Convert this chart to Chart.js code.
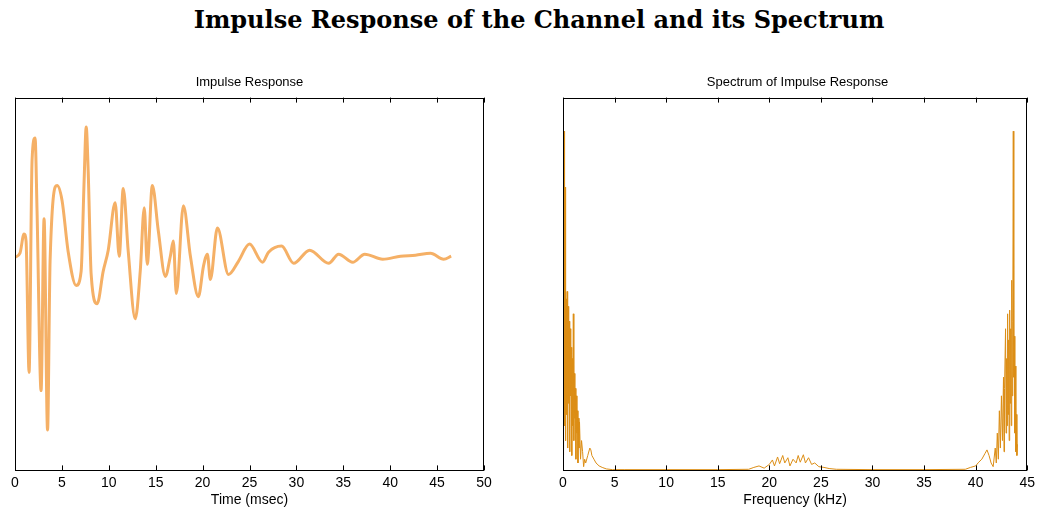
<!DOCTYPE html>
<html>
<head>
<meta charset="utf-8">
<script src="https://cdn.jsdelivr.net/npm/chart.js@4.4.1/dist/chart.umd.min.js"></script>
<style>
  body { margin: 0; background: #fff; width: 1039px; height: 507px; position: relative; overflow: hidden; }
  #title { position: absolute; left: 0; top: 5px; width: 1078px; text-align: center;
           font: bold 24px "DejaVu Serif", serif; color: #000; }
  .box { position: absolute; top: 60px; height: 452px; }
</style>
</head>
<body>
<div id="title">Impulse Response of the Channel and its Spectrum</div>
<div class="box" style="left:0; width:520px;"><canvas id="impulse"></canvas></div>
<div class="box" style="left:520px; width:519px;"><canvas id="spectrum"></canvas></div>
<script>
// impulse response (time in msec, arbitrary amplitude)
let timeMs = [0, 0.53, 0.96, 1.18, 1.5, 1.82, 2.14, 2.35, 2.78, 3.1, 3.47, 3.74, 4.49, 5.02, 5.66,
  6.52, 7.05, 7.37, 7.59, 7.8, 8.12, 8.76, 9.4, 9.94, 10.68, 11.11, 11.54, 12.07, 12.82, 13.35,
  13.78, 14.1, 14.64, 15.28, 16.03, 16.56, 16.88, 17.2, 17.95, 18.7, 19.55, 20.09, 20.51, 20.83,
  21.58, 22.76, 23.82, 25.0, 26.39, 27.03, 28.42, 29.7, 31.41, 33.44, 34.5, 36.0, 37.29, 39.2,
  41.1, 42.7, 44.3, 45.7, 46.5]
let impulse = [0, 0.04, 0.23, 0.16, -1.14, 0.96, 1.18, 0.46, -1.32, 0.38, -1.71, -0.04, 0.71, 0.56, 0.06,
  -0.28, -0.14, 0.76, 1.29, 0.86, -0.17, -0.46, -0.14, 0.07, 0.54, 0.01, 0.68, 0.06, -0.61, -0.14,
  0.49, -0.07, 0.71, 0.26, -0.19, 0.01, 0.16, -0.36, 0.51, 0.01, -0.39, -0.09, 0.03, -0.22,
  0.29, -0.17, -0.04, 0.13, -0.05, 0.05, 0.11, -0.06, 0.07, -0.06, 0.03, -0.05, 0.03, -0.02,
  0.01, 0.02, 0.04, -0.02, 0.01]

// magnitude spectrum (kHz, relative)
let freqKhz = [0, 0.05, 0.1, 0.15, 0.2, 0.25, 0.3, 0.35, 0.4, 0.45, 0.5, 0.55, 0.6, 0.65, 0.7, 0.75,
  0.8, 0.85, 0.9, 0.95, 1.0, 1.05, 1.1, 1.15, 1.2, 1.25, 1.3, 1.35, 1.4, 1.45, 1.5, 1.55, 1.6, 1.7,
  1.8, 1.9, 2.0, 2.1, 2.2, 2.4, 2.6, 2.7, 2.8, 3.0, 3.2, 3.5, 3.8, 4.2, 4.8,
  6, 10, 15, 18, 18.5, 19, 19.5, 20, 20.3, 20.5, 20.8, 21.0, 21.3, 21.5, 21.8, 22.0, 22.3, 22.6,
  22.8, 23.0, 23.3, 23.5, 23.8, 24.1, 24.4, 24.8, 25.3, 25.8, 26.5, 30, 35, 39, 39.5, 40.0, 40.3,
  40.6, 40.9, 41.1, 41.3, 41.5, 41.7, 41.9, 42.0, 42.1, 42.2, 42.3, 42.4, 42.5, 42.6, 42.7, 42.75,
  42.8, 42.9, 42.95, 43.0, 43.05, 43.1, 43.15, 43.2, 43.25, 43.3, 43.35, 43.4, 43.45, 43.5, 43.55,
  43.6, 43.65, 43.7, 43.75, 43.8, 43.85, 43.9, 43.95, 44.0, 44.05]
let spectrum = [0.28, 0.04, 0.91, 0.12, 0.76, 0.08, 0.46, 0.15, 0.48, 0.06, 0.44, 0.18, 0.40, 0.05, 0.38, 0.20,
  0.33, 0.04, 0.30, 0.12, 0.42, 0.08, 0.26, 0.14, 0.22, 0.03, 0.20, 0.10, 0.16, 0.02, 0.14, 0.06, 0.13, 0.03,
  0.08, 0.05, 0.01, 0.03, 0.02, 0.04, 0.06, 0.055, 0.04, 0.03, 0.02, 0.012, 0.008, 0.004, 0.002,
  0.002, 0.002, 0.002, 0.003, 0.008, 0.012, 0.006, 0.016, 0.028, 0.012, 0.036, 0.018, 0.04, 0.02, 0.034, 0.012, 0.03, 0.02,
  0.04, 0.022, 0.042, 0.02, 0.034, 0.016, 0.02, 0.01, 0.008, 0.005, 0.003, 0.002, 0.002, 0.003, 0.008, 0.012, 0.022,
  0.03, 0.045, 0.055, 0.04, 0.02, 0.01, 0.06, 0.02, 0.1, 0.03, 0.16, 0.06, 0.2, 0.08, 0.25, 0.05,
  0.22, 0.38, 0.1, 0.3, 0.12, 0.42, 0.15, 0.35, 0.08, 0.43, 0.18, 0.38, 0.12, 0.51, 0.2,
  0.4, 0.91, 0.25, 0.36, 0.1, 0.28, 0.05, 0.15, 0.04, 0.07]

let timeTicks = [0, 5, 10, 15, 20, 25, 30, 35, 40, 45, 50]
let freqTicks = [0, 5, 10, 15, 20, 25, 30, 35, 40, 45]

const labelFont = { family: "'Liberation Sans', Arial, sans-serif", size: 14 }

// black box round the plot, with small ticks pointing inwards top and bottom
const frameTicks = {
  id: 'frameTicks',
  afterDatasetsDraw(chart) {
    const { ctx, chartArea: a, scales: { x } } = chart
    ctx.save()
    ctx.strokeStyle = '#000'
    ctx.lineWidth = 1
    ctx.strokeRect(Math.round(a.left) + 0.5, Math.round(a.top) + 0.5,
      Math.round(a.width) - 1, Math.round(a.height) - 1)
    ctx.beginPath()
    x.ticks.forEach(t => {
      let px = Math.round(x.getPixelForValue(t.value)) + 0.5
      ctx.moveTo(px, a.bottom); ctx.lineTo(px, a.bottom - 5)
      ctx.moveTo(px, a.top); ctx.lineTo(px, a.top + 5)
    })
    ctx.stroke()
    ctx.restore()
  }
}

function makeChart(id, xs, ys, opts) {
  return new Chart(document.getElementById(id), {
    type: 'line',
    data: {
      datasets: [{
        data: xs.map((v, i) => ({ x: v, y: ys[i] })),
        borderColor: opts.color,
        borderWidth: opts.width,
        pointRadius: 0,
        cubicInterpolationMode: opts.smooth ? 'monotone' : 'default',
        tension: 0,
      }]
    },
    options: {
      responsive: true,
      maintainAspectRatio: false,
      animation: false,
      layout: { padding: opts.padding },
      plugins: {
        legend: { display: false },
        tooltip: { enabled: false },
        title: {
          display: true,
          text: opts.title,
          color: '#000',
          font: { family: labelFont.family, size: 13, weight: 'normal' },
          padding: { top: 15, bottom: 7 },
        },
      },
      scales: {
        x: {
          type: 'linear',
          min: opts.ticks[0],
          max: opts.ticks[opts.ticks.length - 1],
          afterBuildTicks: s => { s.ticks = opts.ticks.map(v => ({ value: v })) },
          grid: { display: false, drawTicks: false },
          border: { display: false },
          ticks: { color: '#000', font: labelFont, padding: 4, maxRotation: 0 },
          title: { display: true, text: opts.xTitle, color: '#000', font: labelFont, padding: { top: -3, bottom: 0 } },
        },
        y: { display: false, min: opts.yMin, max: opts.yMax },
      },
    },
    plugins: [frameTicks],
  })
}

makeChart('impulse', timeMs, impulse, {
  title: 'Impulse Response', xTitle: 'Time (msec)', ticks: timeTicks,
  yMin: -2.11, yMax: 1.58, color: '#F5B066', width: 3, smooth: true,
  padding: { left: 15, right: 36, top: 0, bottom: 3 },
})

makeChart('spectrum', freqKhz, spectrum, {
  title: 'Spectrum of Impulse Response', xTitle: 'Frequency (kHz)', ticks: freqTicks,
  yMin: 0, yMax: 1.0, color: '#DC8E16', width: 1, smooth: false,
  padding: { left: 43, right: 7, top: 0, bottom: 3 },
})
</script>
</body>
</html>
